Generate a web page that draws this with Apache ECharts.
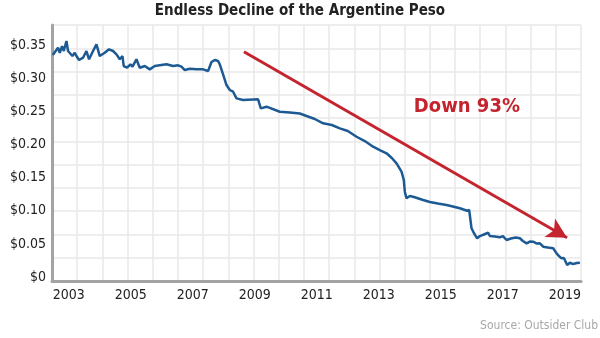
<!DOCTYPE html>
<html>
<head>
<meta charset="utf-8">
<script src="https://cdn.jsdelivr.net/npm/echarts@6/dist/echarts.min.js"></script>
<style>
html,body{margin:0;padding:0;background:#fff;}
#c{width:600px;height:338px;}
</style>
</head>
<body>
<div id="c"></div>
<script>
// ---- data ----
var years = [2002.484,2002.548,2002.655,2002.710,2002.784,2002.839,2002.926,2002.977,2003.032,2003.119,2003.194,2003.248,2003.332,2003.461,2003.571,2003.655,2003.784,2003.894,2004.000,2004.161,2004.300,2004.429,2004.539,2004.645,2004.732,2004.774,2004.881,2004.990,2005.055,2005.184,2005.290,2005.452,2005.613,2005.774,2005.935,2006.152,2006.365,2006.526,2006.635,2006.742,2006.903,2007.119,2007.332,2007.494,2007.603,2007.710,2007.816,2007.871,2007.977,2008.087,2008.194,2008.300,2008.410,2008.623,2009.106,2009.194,2009.377,2009.806,2010.129,2010.452,2010.668,2010.935,2011.203,2011.484,2011.742,2012.000,2012.281,2012.548,2012.816,2013.032,2013.248,2013.419,2013.571,2013.732,2013.806,2013.839,2013.894,2014.000,2014.106,2014.429,2014.645,2014.903,2015.184,2015.387,2015.613,2015.848,2015.913,2015.990,2016.065,2016.171,2016.258,2016.387,2016.526,2016.581,2016.742,2016.903,2017.000,2017.119,2017.258,2017.419,2017.548,2017.645,2017.765,2017.871,2017.977,2018.097,2018.194,2018.300,2018.452,2018.623,2018.732,2018.806,2018.894,2018.968,2019.074,2019.161,2019.268,2019.387,2019.484];
var usdPerPeso = [0.3353,0.3364,0.3464,0.3388,0.3489,0.3414,0.3565,0.3414,0.3440,0.3338,0.3388,0.3338,0.3278,0.3313,0.3414,0.3289,0.3414,0.3515,0.3338,0.3388,0.3440,0.3414,0.3364,0.3289,0.3338,0.3187,0.3162,0.3213,0.3177,0.3289,0.3162,0.3187,0.3137,0.3187,0.3198,0.3213,0.3187,0.3198,0.3177,0.3127,0.3146,0.3137,0.3137,0.3112,0.3248,0.3278,0.3263,0.3213,0.3062,0.2900,0.2825,0.2799,0.2699,0.2674,0.2684,0.2548,0.2573,0.2497,0.2485,0.2470,0.2432,0.2387,0.2322,0.2296,0.2246,0.2205,0.2119,0.2054,0.1968,0.1918,0.1869,0.1798,0.1718,0.1591,0.1465,0.1289,0.1189,0.1224,0.1213,0.1163,0.1133,0.1110,0.1088,0.1065,0.1038,0.1002,0.1012,0.0736,0.0665,0.0585,0.0619,0.0642,0.0669,0.0619,0.0612,0.0600,0.0619,0.0559,0.0582,0.0597,0.0585,0.0544,0.0509,0.0536,0.0533,0.0506,0.0509,0.0458,0.0446,0.0434,0.0358,0.0317,0.0282,0.0287,0.0181,0.0216,0.0196,0.0211,0.0216];
var xTickYears = [2003,2005,2007,2009,2011,2013,2015,2017,2019];
var yTickValues = [0,0.05,0.10,0.15,0.20,0.25,0.30,0.35];
var yTickLabels = ['$0','$0.05','$0.10','$0.15','$0.20','$0.25','$0.30','$0.35'];
var arrowStart = [2008.65, 0.3403];
var arrowEnd = [2019.07, 0.0594];
var annotationPos = [2015.84, 0.2568];
var annotationText = 'Down 93%';
var titleText = 'Endless Decline of the Argentine Peso';
var sourceText = 'Source: Outsider Club';

var FONT = '"DejaVu Sans Condensed","Liberation Sans Narrow","Roboto",sans-serif';
var seriesData = years.map(function(y,i){return [y, usdPerPeso[i]];});

var chart = echarts.init(document.getElementById('c'), null, {renderer:'canvas'});
chart.setOption({
  animation:false,
  backgroundColor:'#ffffff',
  title:[{
    text:titleText, left:'center', top:4, padding:0,
    textStyle:{fontFamily:FONT, fontSize:15, fontWeight:'bold', color:'#222'}
  },{
    text:sourceText, right:2, top:320, padding:0,
    textStyle:{fontFamily:FONT, fontSize:12, fontWeight:'normal', color:'#a8a8a8'}
  }],
  grid:{left:52, right:19, top:25, bottom:57, containLabel:false},
  xAxis:[{
    type:'value', min:2002.46, max:2019.52,
    axisLine:{show:true, onZero:false, lineStyle:{color:'#a3a3a3', width:3}},
    axisTick:{show:false},
    splitLine:{show:false},
    axisLabel:{customValues:xTickYears, formatter:function(v){return String(Math.round(v));},
      fontFamily:FONT, fontSize:14, color:'#222', margin:7, showMinLabel:true, showMaxLabel:true}
  },{
    type:'value', min:0, max:21, interval:1, position:'top',
    axisLine:{show:false}, axisTick:{show:false}, axisLabel:{show:false},
    splitLine:{show:true, lineStyle:{color:'#e8e8e8', width:1.5}}
  }],
  yAxis:[{
    type:'value', min:-0.006, max:0.3807,
    axisLine:{show:true, onZero:false, lineStyle:{color:'#a3a3a3', width:3}},
    axisTick:{show:false},
    splitLine:{show:false},
    axisLabel:{customValues:yTickValues,
      formatter:function(v){var i=yTickValues.findIndex(function(t){return Math.abs(t-v)<1e-6;});return i>=0?yTickLabels[i]:'';},
      fontFamily:FONT, fontSize:14, color:'#222', margin:6}
  },{
    type:'value', min:0, max:11, interval:1, position:'right',
    axisLine:{show:false}, axisTick:{show:false}, axisLabel:{show:false},
    splitLine:{show:true, lineStyle:{color:'#e8e8e8', width:1.5}}
  }],
  series:[{
    type:'line', xAxisIndex:0, yAxisIndex:0,
    data:seriesData, showSymbol:false, symbol:'none',
    lineStyle:{color:'#1d5a94', width:2.5},
    z:3,
    markLine:{
      silent:true, symbol:['none','arrow'], symbolSize:[16,20],
      lineStyle:{color:'#c4242e', width:3, type:'solid'},
      label:{show:false},
      data:[[{coord:arrowStart},{coord:arrowEnd}]]
    },
    markPoint:{
      silent:true, symbol:'circle', symbolSize:0,
      label:{show:true, position:'inside', formatter:annotationText,
        fontFamily:FONT, fontSize:20, fontWeight:'bold', color:'#c4242e'},
      data:[{coord:annotationPos}]
    }
  }]
});
</script>
</body>
</html>
